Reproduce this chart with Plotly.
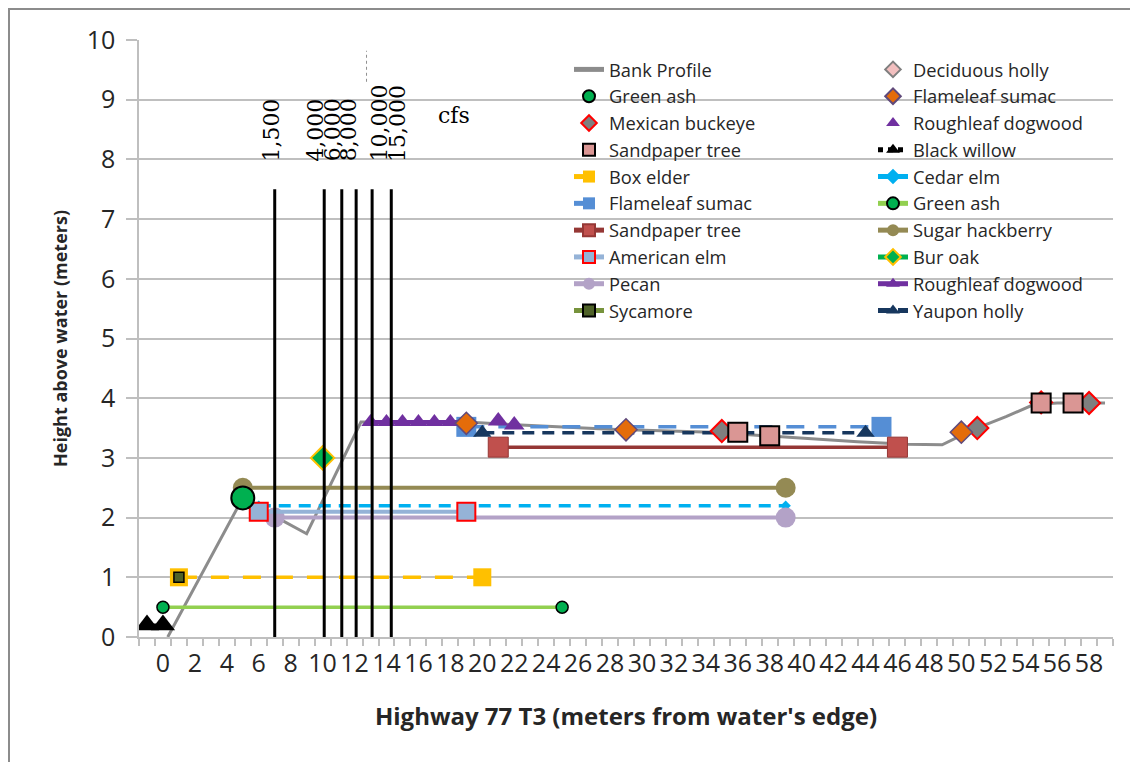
import plotly.graph_objects as go

# ---------------- data ----------------
bank_x = [0.3, 5, 7, 9, 12.4, 19, 22.4, 28, 34.4, 38.2, 43.5, 46.6, 48.8, 50.7, 52.8, 54.5, 56, 59]
bank_y = [0, 2.33, 2.02, 1.73, 3.6, 3.6, 3.55, 3.48, 3.43, 3.36, 3.27, 3.23, 3.22, 3.47, 3.69, 3.89, 3.92, 3.92]

# marker-only series
green_ash_pt_x = [5]
green_ash_pt_y = [2.33]
mex_buckeye_x = [35, 51, 55, 58]
mex_buckeye_y = [3.45, 3.5, 3.93, 3.92]
sandpaper_pt_x = [36, 38, 55, 57]
sandpaper_pt_y = [3.43, 3.37, 3.92, 3.92]
dec_holly_x = [57]
dec_holly_y = [3.92]
flameleaf_pt_x = [19, 29, 50]
flameleaf_pt_y = [3.58, 3.47, 3.43]
roughleaf_pt_x = [21, 22]
roughleaf_pt_y = [3.62, 3.55]
black_willow_x = [-1, 0]
black_willow_y = [0.2, 0.2]

# line series
box_elder_x = [1, 20]
box_elder_y = [1, 1]
cedar_elm_x = [6, 39]
cedar_elm_y = [2.2, 2.2]
flameleaf_ln_x = [19, 45]
flameleaf_ln_y = [3.52, 3.52]
green_ash_ln_x = [0, 25]
green_ash_ln_y = [0.5, 0.5]
sandpaper_ln_x = [21, 46]
sandpaper_ln_y = [3.18, 3.18]
sugar_hack_x = [5, 39]
sugar_hack_y = [2.5, 2.5]
amer_elm_x = [6, 19]
amer_elm_y = [2.1, 2.1]
bur_oak_x = [10]
bur_oak_y = [3.0]
pecan_x = [7, 39]
pecan_y = [2.0, 2.0]
roughleaf_ln_x = [13, 14, 15, 16, 17, 18, 19]
roughleaf_ln_y = [3.6, 3.6, 3.6, 3.6, 3.6, 3.6, 3.6]
sycamore_x = [1]
sycamore_y = [1]
yaupon_x = [20, 44]
yaupon_y = [3.42, 3.42]

# flow stages
cfs_x = [7, 10.1, 11.2, 12.1, 13.1, 14.3]
cfs_top = 7.5
cfs_labels = ["1,500", "4,000", "6,000", "8,000", "10,000", "15,000"]
x_ticks = list(range(0, 59, 2))
y_ticks = list(range(0, 11))

# ---------------- figure ----------------
FONT = "Open Sans, Roboto, sans-serif"
SERIF = "DejaVu Serif, Liberation Serif, serif"
TXT = "#262626"
fig = go.Figure()


def add(name, x, y, rank, legend, mode="lines+markers", line=None, marker=None):
    fig.add_trace(go.Scatter(
        x=x, y=y, name=name, mode=mode, line=line or {}, marker=marker or {},
        legend=legend, legendrank=rank, legendgroup=f"g{rank}", hoverinfo="skip"))


# bank profile underneath
add("Bank Profile", bank_x, bank_y, 1, "legend", mode="lines",
    line=dict(color="#8C8C8C", width=3))

# line series
add("Box elder", box_elder_x, box_elder_y, 5, "legend",
    line=dict(color="#FFC000", width=3.5, dash="18px,14px"),
    marker=dict(symbol="square", size=18, color="#FFC000"))
add("Cedar elm", cedar_elm_x, cedar_elm_y, 105, "legend2",
    line=dict(color="#00B0F0", width=3.5, dash="12px,8px"),
    marker=dict(symbol="diamond", size=8, color="#00B0F0"))
add("Flameleaf sumac", flameleaf_ln_x, flameleaf_ln_y, 6, "legend",
    line=dict(color="#558ED5", width=3.5, dash="18px,14px"),
    marker=dict(symbol="square", size=20, color="#558ED5"))
add("Green ash", green_ash_ln_x, green_ash_ln_y, 106, "legend2",
    line=dict(color="#92D050", width=3.5),
    marker=dict(symbol="circle", size=12, color="#00B050", line=dict(color="black", width=1.5)))
add("Sandpaper tree", sandpaper_ln_x, sandpaper_ln_y, 7, "legend",
    line=dict(color="#953735", width=3.5),
    marker=dict(symbol="square", size=20, color="#C0504D", line=dict(color="#953735", width=1)))
add("Sugar hackberry", sugar_hack_x, sugar_hack_y, 107, "legend2",
    line=dict(color="#948A54", width=4),
    marker=dict(symbol="circle", size=20, color="#948A54"))
add("Pecan", pecan_x, pecan_y, 9, "legend",
    line=dict(color="#B3A2C7", width=4),
    marker=dict(symbol="circle", size=20, color="#B3A2C7"))
add("American elm", amer_elm_x, amer_elm_y, 8, "legend",
    line=dict(color="#95B3D7", width=4),
    marker=dict(symbol="square", size=18, color="#95B3D7", line=dict(color="#FF0000", width=2)))
add("Bur oak", bur_oak_x, bur_oak_y, 108, "legend2",
    line=dict(color="#00B050", width=3.5, dash="12px,8px"),
    marker=dict(symbol="diamond", size=18, color="#00B050", line=dict(color="#FFC000", width=2)))
add("Sycamore", sycamore_x, sycamore_y, 10, "legend",
    line=dict(color="#77933C", width=3.5),
    marker=dict(symbol="square", size=10, color="#4F6228", line=dict(color="black", width=1.5)))
add("Yaupon holly", yaupon_x, yaupon_y, 110, "legend2",
    line=dict(color="#17375E", width=3.5, dash="12px,8px"),
    marker=dict(symbol="triangle-up", size=16, color="#17375E"))
add("Roughleaf dogwood", roughleaf_ln_x, roughleaf_ln_y, 109, "legend2",
    line=dict(color="#7030A0", width=4),
    marker=dict(symbol="triangle-up", size=16, color="#7030A0"))

# marker-only series
add("Deciduous holly", dec_holly_x, dec_holly_y, 101, "legend2", mode="markers",
    marker=dict(symbol="diamond", size=14, color="#F2BFBF", line=dict(color="#7F7F7F", width=1.5)))
add("Mexican buckeye", mex_buckeye_x, mex_buckeye_y, 3, "legend", mode="markers",
    marker=dict(symbol="diamond", size=17, color="#7F7F7F", line=dict(color="#FF0000", width=2)))
add("Sandpaper tree", sandpaper_pt_x, sandpaper_pt_y, 4, "legend", mode="markers",
    marker=dict(symbol="square", size=19, color="#DA9694", line=dict(color="black", width=2)))
add("Flameleaf sumac", flameleaf_pt_x, flameleaf_pt_y, 102, "legend2", mode="markers",
    marker=dict(symbol="diamond", size=17, color="#E46C0A", line=dict(color="#604A7B", width=1.5)))
add("Roughleaf dogwood", roughleaf_pt_x, roughleaf_pt_y, 103, "legend2", mode="markers",
    marker=dict(symbol="triangle-up", size=18, color="#7030A0"))
add("Black willow", black_willow_x, black_willow_y, 104, "legend2",
    line=dict(color="black", width=3, dash="dot"),
    marker=dict(symbol="triangle-up", size=21, color="black"))
add("Green ash", green_ash_pt_x, green_ash_pt_y, 2, "legend", mode="markers",
    marker=dict(symbol="circle", size=23, color="#00B050", line=dict(color="black", width=2)))

# flow stage lines on top
for xv in cfs_x:
    fig.add_trace(go.Scatter(x=[xv, xv], y=[0, cfs_top], mode="lines",
                             line=dict(color="black", width=3), showlegend=False,
                             hoverinfo="skip"))

label_offsets = [-0.2, -0.6, -0.6, -0.5, 0.45, 0.35]
for xv, lab, off in zip(cfs_x, cfs_labels, label_offsets):
    fig.add_annotation(x=xv + off, y=7.93, text=lab, textangle=-90, showarrow=False,
                       xanchor="center", yanchor="bottom",
                       font=dict(family=SERIF, size=22, color="black"))
fig.add_annotation(x=18.2, y=8.73, text="cfs", showarrow=False,
                   font=dict(family=SERIF, size=22, color="black"))

# small dotted stray line near the top
fig.add_shape(type="line", x0=12.75, x1=12.75, y0=9.3, y1=9.82, xref="x", yref="y",
              line=dict(color="#909090", width=1, dash="dot"))

# page offset: the html body has an 8px margin, figure sized to fit the window
OFF = 8
L, T, PW, PH = 139 - OFF, 40 - OFF, 974, 597
W, H = 1138 - OFF, 762 - OFF


def px_x(p):  # page x -> paper
    return (p - OFF - L) / PW


def px_y(p):  # page y -> paper
    return (T + PH - (p - OFF)) / PH


# outer chart border
fig.add_shape(type="rect", xref="paper", yref="paper",
              x0=px_x(9), x1=px_x(1160), y0=px_y(800), y1=px_y(9),
              line=dict(color="#8C8C8C", width=2), fillcolor="rgba(0,0,0,0)")

legend_common = dict(
    bgcolor="rgba(255,255,255,0)", font=dict(family=FONT, size=18.3, color=TXT),
    tracegroupgap=0, xanchor="left", yanchor="top", orientation="v",
    itemsizing="constant",
)

fig.update_layout(
    width=W, height=H,
    margin=dict(l=L, r=W - L - PW, t=T, b=H - T - PH),
    paper_bgcolor="white", plot_bgcolor="white",
    font=dict(family=FONT, color=TXT),
    showlegend=True,
    legend=dict(x=px_x(569), y=px_y(51), **legend_common),
    legend2=dict(x=px_x(873), y=px_y(51), **legend_common),
    xaxis=dict(
        range=[-1.5, 59.5], tickmode="array", tickvals=x_ticks,
        ticks="outside", ticklen=0, showgrid=False, zeroline=False,
        showline=True, linecolor="#BFBFBF", linewidth=1.5,
        tickfont=dict(family=FONT, size=25, color=TXT), tickangle=0,
        ticklabelstandoff=3,
        minor=dict(tick0=0.5, dtick=1, ticks="outside", ticklen=7, tickcolor="#BFBFBF",
                   tickwidth=1.5, showgrid=False),
        title=dict(text="<b>Highway 77 T3 (meters from water's edge)</b>",
                   font=dict(family=FONT, size=24, color=TXT), standoff=30),
        automargin=False,
    ),
    yaxis=dict(
        range=[0, 10], tickmode="array", tickvals=y_ticks,
        showgrid=True, gridcolor="#BFBFBF", gridwidth=1.5, zeroline=False,
        showline=True, linecolor="#BFBFBF", linewidth=1.5,
        ticks="outside", ticklen=11, tickcolor="#BFBFBF", tickwidth=1.5,
        tickfont=dict(family=FONT, size=25, color=TXT),
        ticklabelstandoff=6,
        title=dict(text="<b>Height above water (meters)</b>",
                   font=dict(family=FONT, size=18, color=TXT), standoff=14),
        automargin=False,
    ),
)

fig.write_html("out.html")
